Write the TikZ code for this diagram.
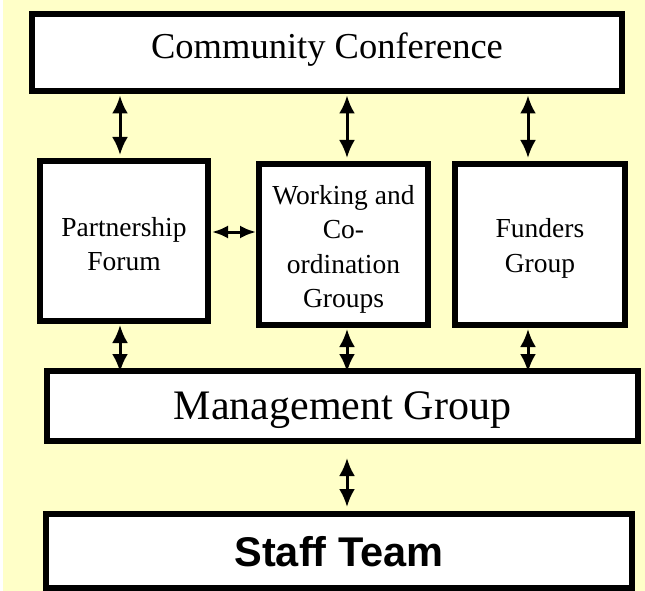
\documentclass[tikz,border=0pt]{standalone}
\usepackage{fontspec}
\setmainfont{Liberation Serif}
\newfontfamily\arialfont{Liberation Sans}
\usetikzlibrary{arrows.meta}
\definecolor{bgyellow}{RGB}{255,255,200}
\tikzset{
  box/.style={draw=black, fill=white, line width=6pt, inner sep=0pt, align=center},
  arr/.style={line width=3pt, {Latex[length=18pt,width=16pt]}-{Latex[length=18pt,width=16pt]}},
  harr/.style={line width=3pt, {Latex[length=16pt,width=13pt]}-{Latex[length=16pt,width=13pt]}},
  smalltext/.style={font=\fontsize{27.5}{34.5}\selectfont, align=center}
}
\begin{document}
\begin{tikzpicture}[x=1pt,y=-1pt]
\useasboundingbox (0,0) rectangle (645,591);
\fill[white] (0,0) rectangle (645,591);
\fill[bgyellow] (3,0) rectangle (645,591);

\node[box, minimum width=590pt, minimum height=77pt,
  label={[font=\fontsize{36.5}{40}\selectfont, yshift=3pt]center:Community Conference}] (CC) at (327,52.5) {};
\node[box, minimum width=168pt, minimum height=160pt,
  label={[smalltext, yshift=-3pt]center:Partnership\\Forum}] (PF) at (124,241) {};
\node[box, minimum width=169pt, minimum height=161pt,
  label={[smalltext, yshift=-5pt]center:Working and\\Co-\\ordination\\Groups}] (WG) at (343.5,244.5) {};
\node[box, minimum width=170pt, minimum height=161pt,
  label={[smalltext, yshift=-4pt]center:Funders\\Group}] (FG) at (540,244.5) {};
\node[box, minimum width=591pt, minimum height=70pt,
  label={[font=\fontsize{42}{46}\selectfont, yshift=-4pt]center:Management Group}] (MG) at (342.5,406) {};
\node[box, minimum width=586pt, minimum height=74pt,
  label={[font=\arialfont\bfseries\fontsize{41.5}{46}\selectfont, yshift=-1pt]center:Staff Team}] (ST) at (339,551) {};

\coordinate (a1) at ([xshift=-4pt]PF.north);
\coordinate (a2) at ([xshift=3.5pt]WG.north);
\coordinate (a3) at ([xshift=-12pt]FG.north);
\coordinate (b1) at ([xshift=-4pt]PF.south);
\coordinate (b2) at ([xshift=3.5pt]WG.south);
\coordinate (b3) at ([xshift=-12pt]FG.south);
\coordinate (c1) at ([xshift=4.5pt]MG.south);
\coordinate (h1) at ([yshift=9pt]PF.east);

\draw[arr, shorten <=1.5pt, shorten >=3pt] (CC.south -| a1) -- (a1);
\draw[arr, shorten <=1.5pt, shorten >=3pt] (CC.south -| a2) -- (a2);
\draw[arr, shorten <=1.5pt, shorten >=3pt] (CC.south -| a3) -- (a3);
\draw[arr, shorten <=1pt, shorten >=-4pt] (b1) -- (MG.north -| b1);
\draw[arr, shorten <=1pt, shorten >=-4pt] (b2) -- (MG.north -| b2);
\draw[arr, shorten <=1pt, shorten >=-4pt] (b3) -- (MG.north -| b3);
\draw[harr, shorten <=1pt, shorten >=0pt] (h1) -- (h1 -| WG.west);
\draw[arr, shorten <=14pt, shorten >=4pt] (c1) -- (ST.north -| c1);
\end{tikzpicture}
\end{document}
